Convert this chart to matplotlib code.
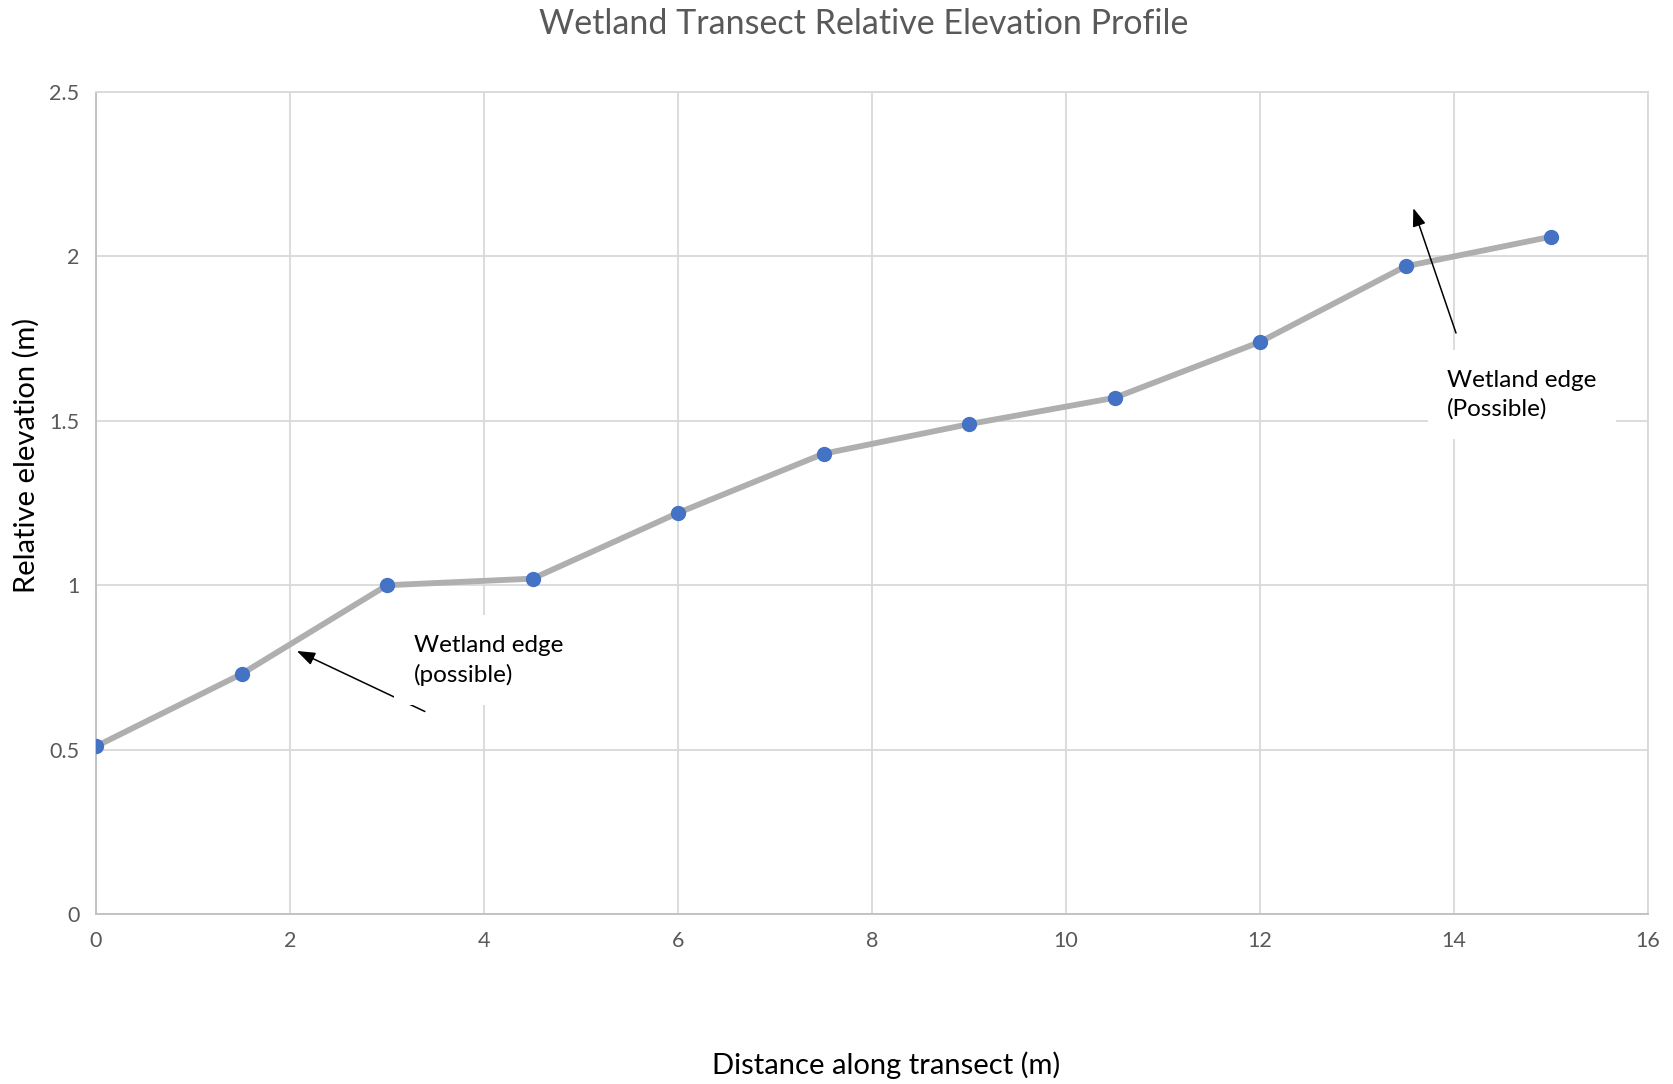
import matplotlib.pyplot as plt

plt.rcParams['font.family'] = ['Lato', 'DejaVu Sans']

# transect stations (m) and relative elevation (m)
distance = [0, 1.5, 3, 4.5, 6, 7.5, 9, 10.5, 12, 13.5, 15]
elevation = [0.51, 0.73, 1.00, 1.02, 1.22, 1.40, 1.49, 1.57, 1.74, 1.97, 2.06]

x_ticks = [0, 2, 4, 6, 8, 10, 12, 14, 16]
y_ticks = [0, 0.5, 1, 1.5, 2, 2.5]
y_tick_labels = ['0', '0.5', '1', '1.5', '2', '2.5']

fig = plt.figure(figsize=(16.73, 10.84), dpi=100)
ax = fig.add_axes([0.0574, 0.1568, 0.9277, 0.7583])

ax.plot(distance, elevation, color='#afafaf', linewidth=4.2, zorder=3,
        solid_capstyle='round')
ax.plot(distance, elevation, 'o', color='#4472c4', markersize=10, zorder=4)

ax.set_xlim(0, 16)
ax.set_ylim(0, 2.5)
ax.set_xticks(x_ticks)
ax.set_yticks(y_ticks)
ax.set_yticklabels(y_tick_labels)
ax.grid(True, color='#d9d9d9', linewidth=1.3, zorder=0)
ax.set_axisbelow(True)
for s in ax.spines.values():
    s.set_color('#d9d9d9')
    s.set_linewidth(1.3)
ax.spines['left'].set_color('#bfbfbf')
ax.spines['bottom'].set_color('#bfbfbf')
ax.tick_params(length=0, labelsize=15.5, labelcolor='#595959', pad=12)

fig.text(0.516, 0.978, 'Wetland Transect Relative Elevation Profile',
         fontsize=24.5, color='#595959', ha='center', va='center')
fig.text(0.5296, 0.0175, 'Distance along transect (m)', fontsize=21,
         ha='center', va='center')
fig.text(0.016, 0.58, 'Relative elevation (m)', fontsize=21, rotation=90,
         ha='center', va='center')

# annotations: arrows first, then text boxes on top of them
arrow_style = dict(arrowstyle='-|>,head_length=1.1,head_width=0.4',
                   color='black', lw=1.1, shrinkA=0, shrinkB=0)

ax.annotate('', xy=(2.07, 0.80), xytext=(3.39, 0.616),
            arrowprops=arrow_style, zorder=5)
ax.text(3.277, 0.772, 'Wetland edge\n(possible)', fontsize=17.5, va='center',
        ha='left', linespacing=1.45, zorder=6,
        bbox=dict(boxstyle='square,pad=0.8', fc='white', ec='none'))

ax.annotate('', xy=(13.58, 2.147), xytext=(14.02, 1.767),
            arrowprops=arrow_style, zorder=5)
ax.text(13.93, 1.579, 'Wetland edge\n(Possible)', fontsize=17.5, va='center',
        ha='left', linespacing=1.45, zorder=6,
        bbox=dict(boxstyle='square,pad=0.8', fc='white', ec='none'))

fig.savefig('out.png', dpi=100)
